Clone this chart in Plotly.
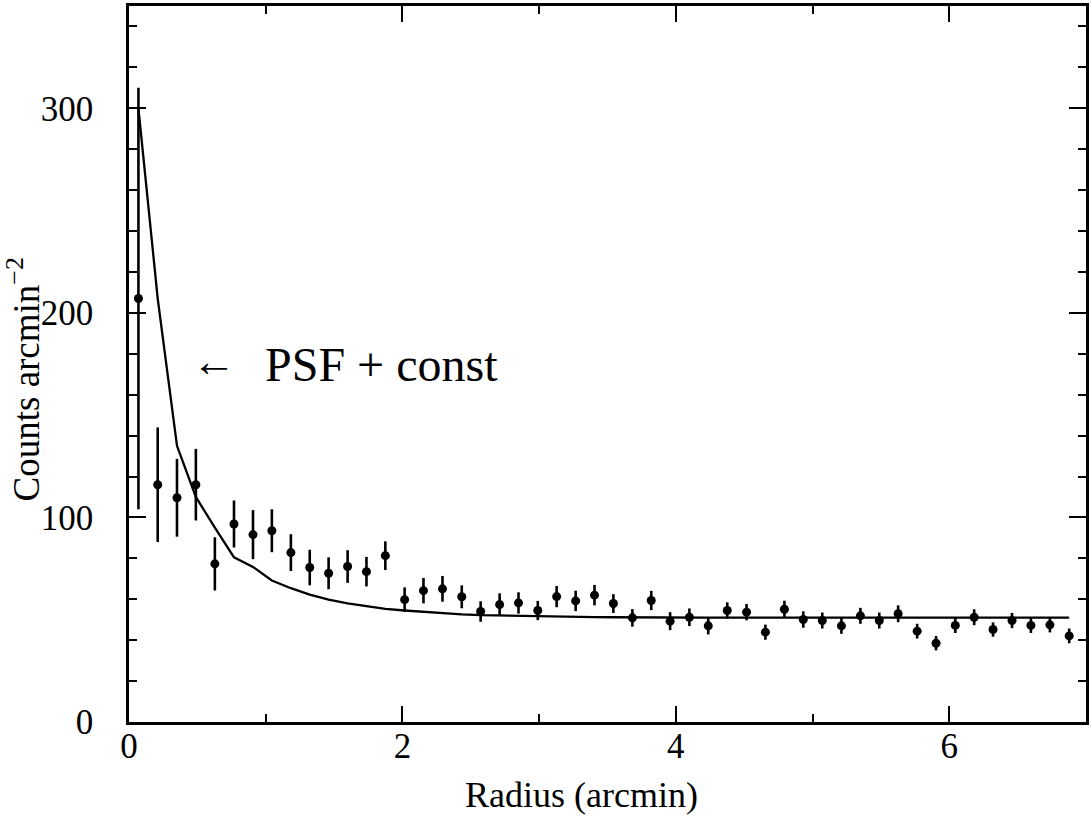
import plotly.graph_objects as go

# Radial profile data
radius = [0.069, 0.210, 0.351, 0.489, 0.628, 0.768, 0.907, 1.045, 1.184, 1.322,
          1.460, 1.599, 1.737, 1.875, 2.016, 2.154, 2.293, 2.434, 2.572, 2.711,
          2.849, 2.990, 3.128, 3.267, 3.405, 3.543, 3.682, 3.820, 3.958, 4.099,
          4.237, 4.376, 4.517, 4.655, 4.794, 4.932, 5.071, 5.211, 5.350, 5.488,
          5.626, 5.765, 5.903, 6.044, 6.182, 6.320, 6.459, 6.597, 6.736, 6.877]

counts = [207.0, 116.0, 109.6, 116.0, 77.3, 96.8, 91.6, 93.5, 82.8, 75.5,
          72.7, 76.0, 73.5, 81.3, 59.8, 64.2, 65.1, 61.2, 54.0, 57.4,
          58.2, 54.5, 61.3, 59.2, 62.0, 57.9, 50.9, 59.4, 49.3, 51.2,
          47.0, 54.5, 53.7, 43.9, 55.1, 50.1, 49.6, 47.0, 51.9, 49.6,
          52.9, 44.4, 38.5, 47.2, 51.2, 45.2, 49.6, 47.2, 47.5, 42.1]

count_err = [103.0, 28.0, 19.0, 17.5, 13.0, 11.5, 12.0, 10.5, 9.0, 8.7,
             7.8, 8.0, 7.2, 7.0, 6.0, 6.2, 6.3, 5.6, 5.0, 5.5,
             5.2, 4.7, 5.2, 5.0, 5.0, 4.6, 4.3, 4.7, 4.4, 4.3,
             4.2, 4.0, 4.0, 3.7, 4.2, 4.0, 3.9, 3.9, 3.9, 3.9,
             4.1, 3.6, 3.5, 3.7, 3.9, 3.5, 3.7, 3.7, 3.7, 3.6]

# PSF + const model evaluated at the same radii
model = [300.0, 207.0, 135.0, 110.0, 95.0, 80.5, 75.8, 69.2, 65.4, 62.3,
         59.8, 58.0, 56.6, 55.3, 54.5, 53.8, 53.2, 52.6, 52.2, 52.0,
         51.8, 51.6, 51.5, 51.4, 51.3, 51.2, 51.1, 51.0, 51.0, 51.0,
         51.0, 51.0, 51.0, 51.0, 51.0, 51.0, 51.0, 51.0, 51.0, 51.0,
         51.0, 51.0, 51.0, 51.0, 51.0, 51.0, 51.0, 51.0, 51.0, 51.0]

x_ticks = [0, 2, 4, 6]
y_ticks = [0, 100, 200, 300]

FONT = "Liberation Serif, Times New Roman, Times, serif"

fig = go.Figure()

fig.add_trace(go.Scatter(
    x=radius, y=model, mode="lines",
    line=dict(color="black", width=2.3),
    showlegend=False, hoverinfo="skip",
))

fig.add_trace(go.Scatter(
    x=radius, y=counts, mode="markers",
    marker=dict(color="black", size=9, symbol="circle"),
    error_y=dict(type="data", array=count_err, visible=True,
                 color="black", thickness=2.6, width=0),
    showlegend=False,
))

axis_common = dict(
    showgrid=False, zeroline=False,
    showline=True, linecolor="black", linewidth=2.5, mirror="allticks",
    ticks="inside", tickcolor="black", tickwidth=2,
    tickfont=dict(family=FONT, size=35, color="black"),
)

fig.update_xaxes(
    range=[0, 7], tickmode="array", tickvals=x_ticks,
    ticktext=[str(v) for v in x_ticks], ticklen=16,
    minor=dict(ticks="inside", dtick=1, tick0=0, ticklen=8, tickwidth=2,
               tickcolor="black", showgrid=False),
    ticklabelstandoff=-9,
    **axis_common,
)
fig.update_yaxes(
    range=[0, 350], tickmode="array", tickvals=y_ticks,
    ticktext=[str(v) for v in y_ticks], ticklen=17,
    minor=dict(ticks="inside", dtick=20, tick0=0, ticklen=8, tickwidth=2,
               tickcolor="black", showgrid=False),
    ticklabelstandoff=26,
    **axis_common,
)

fig.add_annotation(
    text="Radius (arcmin)", xref="paper", yref="paper",
    x=0.473, y=-0.102, xanchor="center", yanchor="middle", showarrow=False,
    font=dict(family=FONT, size=36, color="black"),
)
fig.add_annotation(
    text="Counts arcmin<sup>\u22122</sup>", xref="paper", yref="paper",
    x=-0.110, y=0.478, xanchor="center", yanchor="middle", showarrow=False,
    textangle=-90, font=dict(family=FONT, size=37, color="black"),
)
fig.add_annotation(
    text="PSF + const", xref="x", yref="y",
    x=1.846, y=175, xanchor="center", yanchor="middle", showarrow=False,
    font=dict(family=FONT, size=48, color="black"),
)
fig.add_annotation(
    text="\u2190", xref="x", yref="y",
    x=0.62, y=176, xanchor="center", yanchor="middle", showarrow=False,
    font=dict(family=FONT, size=44, color="black"),
)

fig.update_layout(
    width=1092, height=817,
    margin=dict(l=129, r=3, t=4, b=95),
    paper_bgcolor="white", plot_bgcolor="white",
    font=dict(family=FONT, color="black"),
)

fig.write_html("out.html")
